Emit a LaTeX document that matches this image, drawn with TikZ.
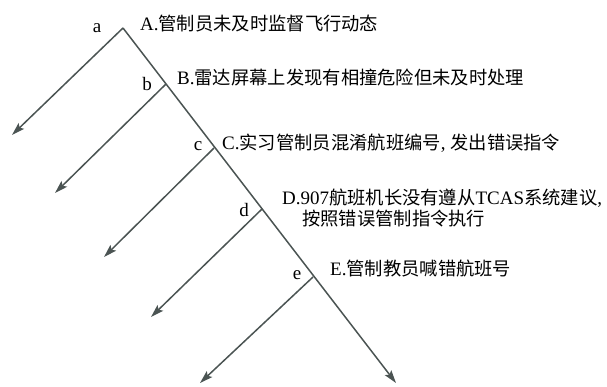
\documentclass[tikz,border=0pt]{standalone}
\usepackage{fontspec}
\setmainfont{Liberation Serif}
\newfontfamily\cjk{Noto Sans CJK SC}
\usetikzlibrary{arrows.meta}
\definecolor{lc}{HTML}{4B5453}
\tikzset{
  ln/.style={draw=lc, line width=1.5pt},
  arr/.style={ln, -{Stealth[length=13pt,width=8pt,inset=2.5pt]}},
  lab/.style={anchor=base, inner sep=0pt, font=\fontsize{19}{21}\selectfont},
  txt/.style={anchor=base west, inner sep=0pt, font=\fontsize{19}{21}\selectfont},
}
\newcommand{\zh}[1]{{\cjk\fontsize{18.3}{21}\selectfont #1}}
\begin{document}
\begin{tikzpicture}[x=1pt,y=-1pt]
\useasboundingbox (0,0) rectangle (607,386);
% junction points
\coordinate (pa) at (123,28);
\coordinate (pb) at (166,84);
\coordinate (pc) at (214,148);
\coordinate (pd) at (262,209);
\coordinate (pe) at (313,277);
\coordinate (pend) at (396,383);
% branch ends
\coordinate (ta) at (12,135);
\coordinate (tb) at (55,193);
\coordinate (tc) at (104,257);
\coordinate (td) at (151,317);
\coordinate (te) at (200,383);
\draw[arr] (pa) -- (pend);
\draw[arr] (pa) -- (ta);
\draw[arr] (pb) -- (tb);
\draw[arr] (pc) -- (tc);
\draw[arr] (pd) -- (td);
\draw[arr] (pe) -- (te);
% small labels
\node[lab] (la) at (97,32) {a};
\node[lab] (lb) at (147,90) {b};
\node[lab] (lc) at (198,150) {c};
\node[lab] (ld) at (244,216) {d};
\node[lab] (le) at (297,279) {e};
% texts
\node[txt] (A) at (140,30) {A.\zh{管制员未及时监督飞行动态}};
\node[txt] (B) at (177,84) {B.\zh{雷达屏幕上发现有相撞危险但未及时处理}};
\node[txt] (C) at (222,149) {C.\zh{实习管制员混淆航班编号}, \zh{发出错误指令}};
\node[txt] (D1) at (282,204) {D.907\zh{航班机长没有遵从}TCAS\zh{系统建议},};
\node[txt] (D2) at (302,225) {\zh{按照错误管制指令执行}};
\node[txt] (E) at (330,275) {E.\zh{管制教员喊错航班号}};
\end{tikzpicture}
\end{document}
